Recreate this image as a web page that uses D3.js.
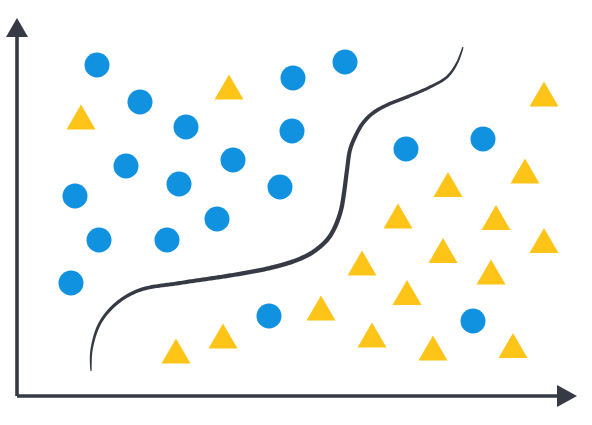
<!DOCTYPE html>
<html>
<head>
<meta charset="utf-8">
<script src="https://cdn.jsdelivr.net/npm/d3@7"></script>
<style>
  body { margin: 0; background: #fff; }
</style>
</head>
<body>
<script>

// class A (blue circles), data units from the axis origin
const circlesX = [80, 123, 169, 109, 162, 216, 58, 263, 276, 275, 328, 389, 466, 200, 82, 150, 54, 252, 456];
const circlesY = [331, 294, 269, 230, 212, 236, 200, 209, 318, 265, 334, 247, 257, 177, 156, 156, 113, 80, 75];

// class B (yellow triangles)
const trianglesX = [64, 212, 527, 508, 431, 381, 479, 527, 345, 426, 474, 390, 304, 355, 416, 496, 159, 206];
const trianglesY = [279, 309, 302, 225, 211.5, 180, 178.5, 155.5, 133, 145.5, 124, 103.5, 88, 61, 48, 50.5, 45, 60];

// decision boundary
const boundaryX = [74, 74.5, 83, 100, 123, 163, 216, 253, 280, 296, 310, 318, 324, 327, 330, 333, 338, 346, 356, 370, 390, 413, 430, 440, 446];
const boundaryY = [25, 46, 73, 93, 106, 113, 121, 128, 136, 144, 156, 169, 186, 203, 226, 246, 259, 273, 283, 291, 299, 309, 319, 333, 349];

const width = 592;
const height = 425;
const axisColor = '#363a45';

const xScale = d3.scaleLinear().domain([0, 560]).range([17, 577]);
const yScale = d3.scaleLinear().domain([0, 378]).range([396, 18]);

const svg = d3.select('body')
	.append('svg')
	.attr('width', width)
	.attr('height', height);

// axes
const x0 = xScale(0), y0 = yScale(0);
svg.append('path')
	.attr('d', `M${x0},${y0} L${xScale(541)},${y0}`)
	.attr('stroke', axisColor)
	.attr('stroke-width', 3.6)
	.attr('fill', 'none');
svg.append('path')
	.attr('d', `M${x0},${y0} L${x0},${yScale(360)}`)
	.attr('stroke', axisColor)
	.attr('stroke-width', 3.6)
	.attr('fill', 'none');

// arrow heads
svg.append('path')
	.attr('d', `M${xScale(560)},${y0} L${xScale(540)},${y0 - 11} L${xScale(540)},${y0 + 11} Z`)
	.attr('fill', axisColor);
svg.append('path')
	.attr('d', `M${x0},${yScale(378)} L${x0 - 11},${yScale(359)} L${x0 + 11},${yScale(359)} Z`)
	.attr('fill', axisColor);

// boundary curve, drawn as a tapered brush stroke
const line = d3.line()
	.x(d => xScale(d[0]))
	.y(d => yScale(d[1]))
	.curve(d3.curveCatmullRom.alpha(0.5));

const pts = d3.zip(boundaryX, boundaryY);
const guide = svg.append('path')
	.attr('d', line(pts))
	.attr('fill', 'none')
	.attr('stroke', 'none');

const node = guide.node();
const total = node.getTotalLength();
const n = 400;
const left = [], right = [];
for (let i = 0; i <= n; i++) {
	const t = i / n;
	const l = t * total;
	const p = node.getPointAtLength(l);
	const q = node.getPointAtLength(Math.min(total, l + 0.5));
	const r = node.getPointAtLength(Math.max(0, l - 0.5));
	let dx = q.x - r.x, dy = q.y - r.y;
	const len = Math.hypot(dx, dy) || 1;
	dx /= len; dy /= len;
	const w = 0.5 + 1.7 * Math.pow(Math.sin(Math.PI * t), 0.45);
	left.push([p.x - dy * w, p.y + dx * w]);
	right.push([p.x + dy * w, p.y - dx * w]);
}
svg.append('path')
	.attr('d', 'M' + left.concat(right.reverse()).map(p => p.join(',')).join('L') + 'Z')
	.attr('fill', axisColor);

// circles
svg.selectAll('circle.a')
	.data(d3.zip(circlesX, circlesY))
	.enter()
	.append('circle')
	.attr('class', 'a')
	.attr('cx', d => xScale(d[0]))
	.attr('cy', d => yScale(d[1]))
	.attr('r', 12.5)
	.attr('fill', '#1192e0');

// triangles
const tw = 14.5, th = 12.5;
svg.selectAll('path.b')
	.data(d3.zip(trianglesX, trianglesY))
	.enter()
	.append('path')
	.attr('class', 'b')
	.attr('d', d => {
		const cx = xScale(d[0]), cy = yScale(d[1]);
		return `M${cx},${cy - th} L${cx + tw},${cy + th} L${cx - tw},${cy + th} Z`;
	})
	.attr('fill', '#fec418');

</script>
</body>
</html>
